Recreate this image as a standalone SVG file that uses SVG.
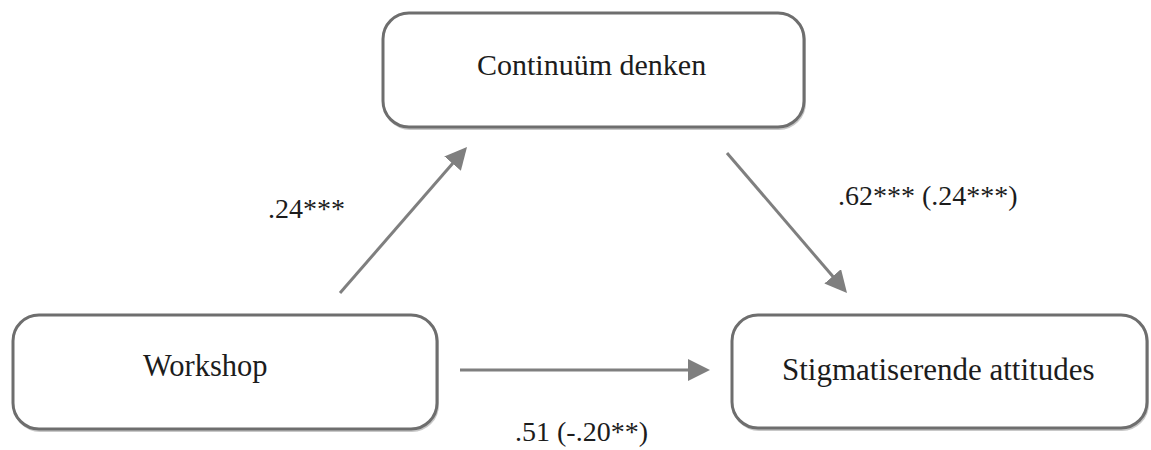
<svg xmlns="http://www.w3.org/2000/svg" width="1151" height="450" viewBox="0 0 1151 450">
  <style>
    .box { fill: #ffffff; stroke: #6e6e6e; stroke-width: 3; }
    .shadow { fill: none; stroke: #c8c8c8; stroke-width: 2; }
    .conn { stroke: #7f7f7f; stroke-width: 3; fill: none; marker-end: url(#arrow); }
    .node-label { font-family: "Liberation Serif", "Times New Roman", serif; fill: #1c1c1c; }
    .edge-label { font-family: "Liberation Serif", "Times New Roman", serif; font-size: 28px; fill: #1c1c1c; }
  </style>
  <defs>
    <marker id="arrow" markerUnits="userSpaceOnUse" markerWidth="22" markerHeight="22" refX="4" refY="11" orient="auto">
      <path d="M0,0 L22,11 L0,22 Z" fill="#7f7f7f"/>
    </marker>
  </defs>
  <rect width="1151" height="450" fill="#ffffff"/>

  <g id="node-continuum">
    <rect class="shadow" x="384" y="14" width="421" height="115" rx="26"/>
    <rect class="box" x="383" y="13" width="421" height="114" rx="26"/>
    <text class="node-label" x="477" y="75" font-size="30">Continuüm denken</text>
  </g>

  <g id="node-workshop">
    <rect class="shadow" x="14" y="316" width="424" height="115" rx="26"/>
    <rect class="box" x="13" y="315" width="424" height="114" rx="26"/>
    <text class="node-label" x="143" y="376" font-size="30.5">Workshop</text>
  </g>

  <g id="node-stigma">
    <rect class="shadow" x="733" y="316" width="415" height="114" rx="26"/>
    <rect class="box" x="732" y="315" width="415" height="113" rx="26"/>
    <text class="node-label" x="782" y="380" font-size="31">Stigmatiserende attitudes</text>
  </g>

  <g id="connectors">
    <line class="conn" x1="340" y1="293" x2="455.2" y2="160.6"/>
    <line class="conn" x1="727" y1="153" x2="835.3" y2="279.3"/>
    <line class="conn" x1="460" y1="370" x2="692" y2="370"/>
  </g>

  <g id="edge-labels">
    <text class="edge-label" x="268" y="218">.24***</text>
    <text class="edge-label" x="838" y="205">.62*** (.24***)</text>
    <text class="edge-label" x="515" y="441">.51 (-.20**)</text>
  </g>
</svg>
